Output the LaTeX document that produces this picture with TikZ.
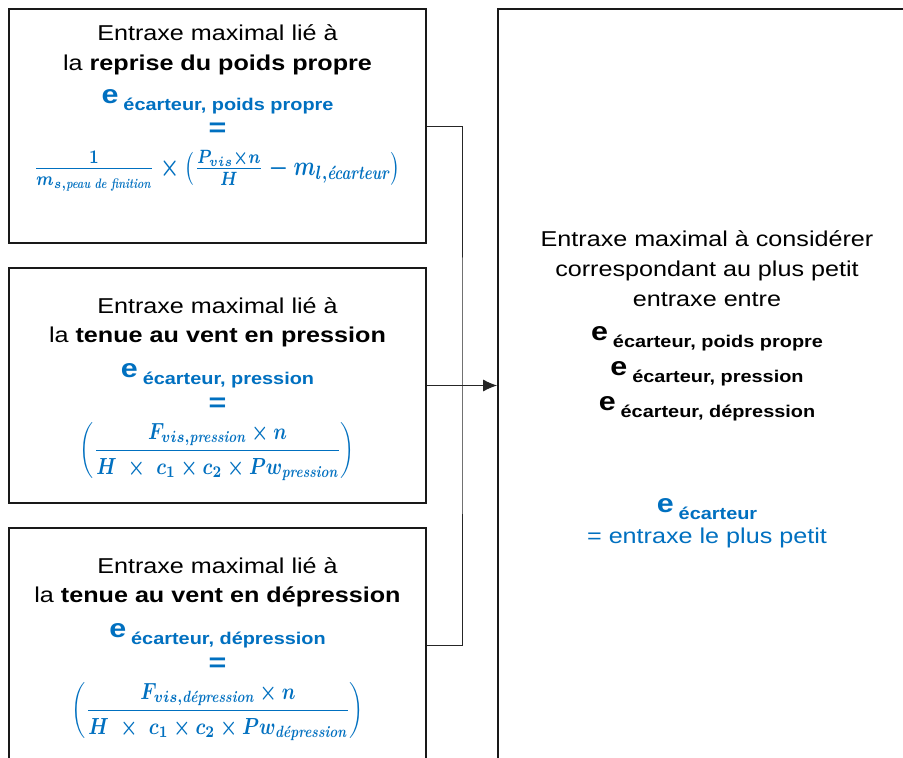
\documentclass[tikz,border=0pt]{standalone}
\usepackage{amsmath}
\usepackage{bm}
\usepackage{fontspec}
\usetikzlibrary{arrows.meta}
\newfontfamily\arialw[FakeStretch=1.17]{Liberation Sans}
\definecolor{eblue}{HTML}{0070C0}
\newcommand{\fs}[1]{\fontsize{#1}{#1}\selectfont}
\newcommand{\esub}[1]{{\fs{26}\bfseries e}\hspace{5pt}\raisebox{-7pt}{\fs{17}\bfseries #1}}
\newcommand{\bt}[1]{\textbf{\textit{#1}}}
\begin{document}
\begin{tikzpicture}[x=1pt,y=-1pt,
  box/.style={draw=black!90,line width=1.7pt,minimum width=417pt,inner sep=0pt},
  link/.style={draw=black!85,line width=1pt},
  txt/.style={font=\arialw\fs{21.5},anchor=base,inner sep=0pt},
  etxt/.style={font=\arialw,anchor=base,inner sep=0pt},
  eq/.style={font=\arialw\fs{26}\bfseries,text=eblue,inner sep=0pt},
  math/.style={text=eblue,inner sep=0pt,font=\boldmath}]
\clip (0,0) rectangle (903,758);
\fill[white] (0,0) rectangle (903,758);
% boxes
\node[box,minimum height=234pt] (b1) at (217.5,126) {};
\node[box,minimum height=235pt] (b2) at (217.5,385.5) {};
\node[box,minimum height=235pt] (b3) at (217.5,645.5) {};
\node[box,minimum width=422pt,minimum height=771pt] (r) at (709,394.5) {};
% box 1
\node[txt] (t11) at (217.5,40) {Entraxe maximal lié à};
\node[txt] (t12) at (217.5,70) {la \textbf{reprise du poids propre}};
\node[etxt,text=eblue] (e1) at (217.5,103) {\esub{écarteur, poids propre}};
\node[eq] (q1) at (217.5,130) {=};
\node[math] (f1) at (217,171) {\resizebox*{367pt}{41pt}{$\displaystyle \tfrac{\bm{1}}{\bm{m}_{\bm{s},\bt{peau de finition}}}\times\left(\tfrac{\bm{P}_{\bm{vis}}\times \bm{n}}{\bm{H}}-\bm{m}_{\bm{l},\bt{écarteur}}\right)$}};
% box 2
\node[txt] (t21) at (217.5,313) {Entraxe maximal lié à};
\node[txt] (t22) at (217.5,342) {la \textbf{tenue au vent en pression}};
\node[etxt,text=eblue] (e2) at (217.5,377) {\esub{écarteur, pression}};
\node[eq] (q2) at (217.5,405) {=};
\node[math] (f2) at (217.5,452) {\resizebox*{275pt}{58pt}{$\displaystyle \left(\frac{\bm{F}_{\bm{vis},\bt{pression}}\times \bm{n}}{\bm{H}\ \times\ \bm{c}_{\bm{1}}\times \bm{c}_{\bm{2}}\times \bm{Pw}_{\bt{pression}}}\right)$}};
% box 3
\node[txt] (t31) at (217.5,573) {Entraxe maximal lié à};
\node[txt] (t32) at (217.5,602) {la \textbf{tenue au vent en dépression}};
\node[etxt,text=eblue] (e3) at (217.5,637) {\esub{écarteur, dépression}};
\node[eq] (q3) at (217.5,665) {=};
\node[math] (f3) at (218,712) {\resizebox*{292pt}{58pt}{$\displaystyle \left(\frac{\bm{F}_{\bm{vis},\bt{dépression}}\times \bm{n}}{\bm{H}\ \times\ \bm{c}_{\bm{1}}\times \bm{c}_{\bm{2}}\times \bm{Pw}_{\bt{dépression}}}\right)$}};
% right box
\node[txt] (r1) at (707,246) {Entraxe maximal à considérer};
\node[txt] (r2) at (707,276) {correspondant au plus petit};
\node[txt] (r3) at (707,306) {entraxe entre};
\node[etxt] (r4) at (707,340) {\esub{écarteur, poids propre}};
\node[etxt] (r5) at (707,375) {\esub{écarteur, pression}};
\node[etxt] (r6) at (707,410) {\esub{écarteur, dépression}};
\node[etxt,text=eblue] (r7) at (707,512) {\esub{écarteur}};
\node[txt,text=eblue] (r8) at (707,543) {= entraxe le plus petit};
% connectors
\coordinate (j) at (462,385.5);
\draw[link] (b1.east) -| (j) |- (b3.east);
\draw[link,-{Latex[length=14pt,width=12pt]}] (b2.east) -- (b2.east -| r.west);
\end{tikzpicture}
\end{document}
